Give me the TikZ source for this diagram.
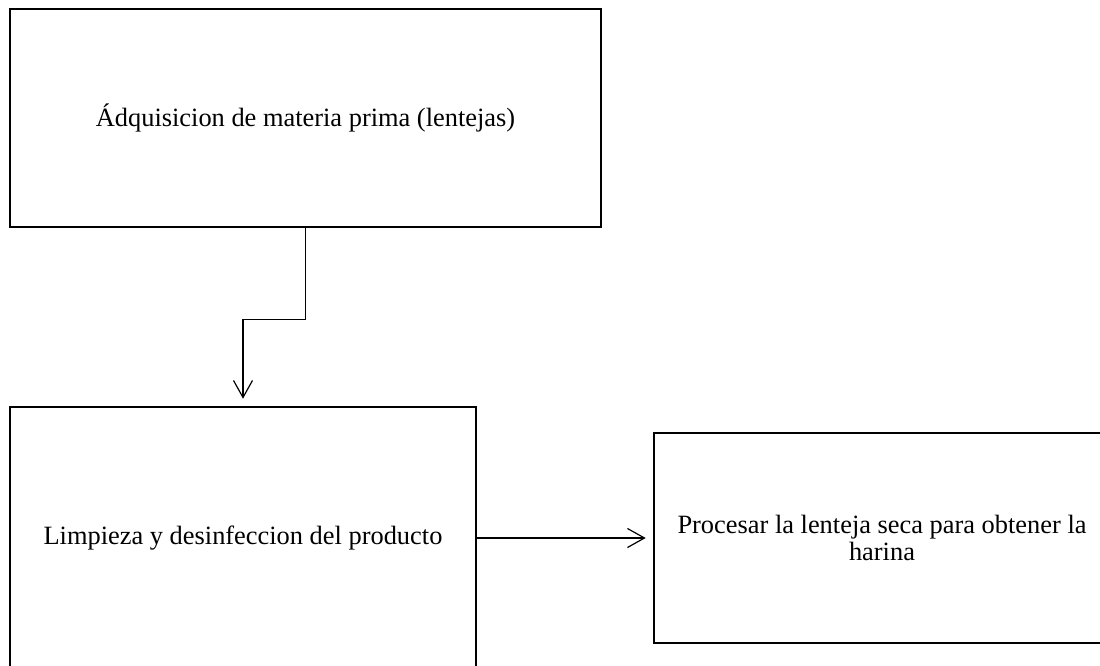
\documentclass[tikz,border=0pt]{standalone}
\usepackage{fontspec}
\setmainfont{Liberation Serif}
\usetikzlibrary{arrows.meta}
\begin{document}
\begin{tikzpicture}[x=1pt,y=-1pt,
  stepbox/.style={draw=black,line width=2.6pt,rectangle,inner sep=0pt,
    align=center,font=\fontsize{26.4}{27}\selectfont},
  conn/.style={line width=1.2pt,-{Straight Barb[length=17pt,width=19pt,line width=1.2pt]}}]
  \useasboundingbox (0,0) rectangle (1100,666);
  \clip (0,0) rectangle (1100,666);
  \node[stepbox,minimum width=591pt,minimum height=218pt] (b1) at (305.5,118)
    {Ádquisicion de materia prima (lentejas)};
  \node[stepbox,minimum width=466pt,minimum height=262pt] (b2) at (243,538)
    {Limpieza y desinfeccion del producto};
  \node[stepbox,minimum width=456pt,minimum height=210pt] (b3) at (882,538)
    {Procesar la lenteja seca para obtener la\\harina};
  \draw[conn] (b1.south) -- ++(0,91) -| ([yshift=7pt]b2.north);
  \draw[conn] (b2.east) -- ([xshift=-7pt]b3.west);
\end{tikzpicture}
\end{document}
